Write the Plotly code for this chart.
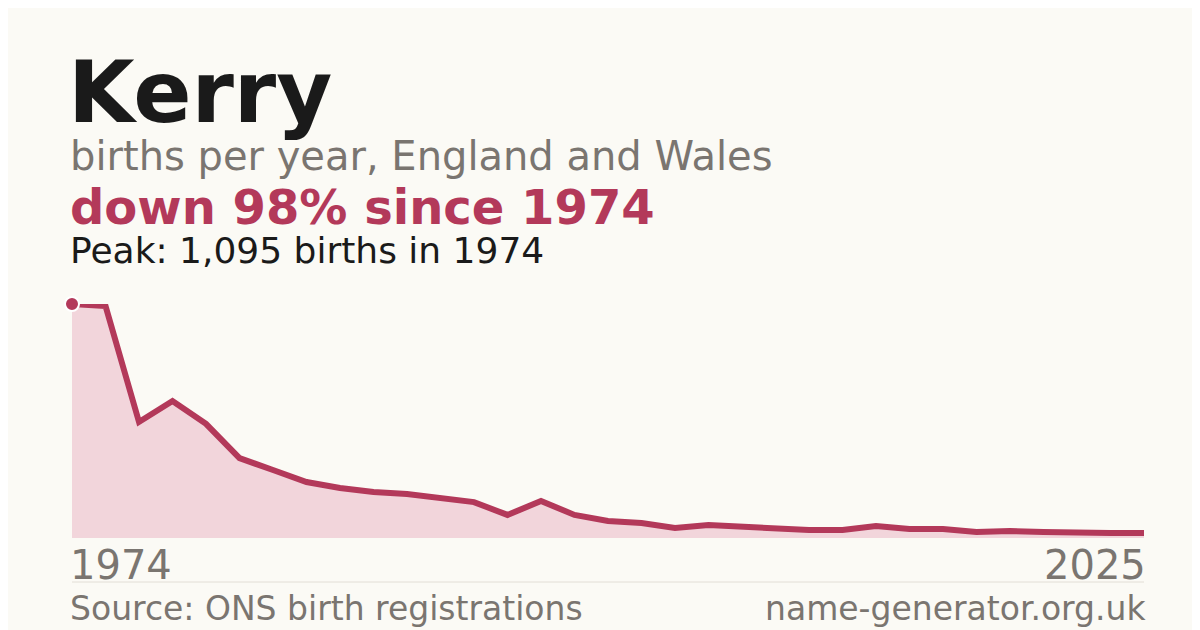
import plotly.graph_objects as go

# births per data point, first = 1974, last = 2025
births = [1095, 1086, 543, 641, 534, 374, 318, 262, 234, 215, 206, 187, 168, 108,
          173, 108, 80, 70, 47, 61, 51, 47, 37, 37, 56, 42, 42, 28, 33, 28, 23, 23, 23]
idx = list(range(len(births)))
first_year, last_year = "1974", "2025"

red = "#b3395a"
grey = "#7a7570"
bg = "#fbfaf5"
font = "DejaVu Sans"

fig = go.Figure()
fig.add_trace(go.Scatter(x=idx, y=births, mode="lines", fill="tozeroy",
                         fillcolor="#f2d5db", line=dict(color=red, width=6),
                         hoverinfo="skip"))
fig.add_trace(go.Scatter(x=[idx[0]], y=[births[0]], mode="markers",
                         marker=dict(color=red, size=14, line=dict(color="white", width=2)),
                         cliponaxis=False, hoverinfo="skip"))

def txt(x, y, s, size, color, bold=False, anchor="left"):
    fig.add_annotation(xref="paper", yref="paper", x=x, y=y, text=f"<b>{s}</b>" if bold else s,
                       showarrow=False, xanchor=anchor, yanchor="middle",
                       font=dict(family=font, size=size, color=color))

W, H = 1200, 630
def px(xp): return (xp - 64) / (1136 - 64)
def py(yp): return (530 - yp) / (530 - 296)

txt(px(58), py(84), "Kerry", 86, "#1a1a1a", bold=True)
txt(px(60), py(148), "births per year, England and Wales", 40, grey)
txt(px(60), py(199), "down 98% since 1974", 48, red, bold=True)
txt(px(60), py(243), "Peak: 1,095 births in 1974", 36, "#1a1a1a")
txt(px(60), py(557), first_year, 40, grey)
txt(px(1140), py(557), last_year, 40, grey, anchor="right")
txt(px(60), py(600), "Source: ONS birth registrations", 33, grey)
txt(px(1140), py(600), "name-generator.org.uk", 33, grey, anchor="right")
fig.add_shape(type="line", xref="paper", yref="paper", x0=0, x1=1, y0=py(574), y1=py(574),
              line=dict(color="#e2ded6", width=1))

fig.update_layout(width=W, height=H, paper_bgcolor=bg, plot_bgcolor=bg, showlegend=False,
                  margin=dict(l=64, r=64, t=296, b=100),
                  xaxis=dict(range=[0, len(births) - 1], visible=False),
                  yaxis=dict(range=[0, 1095], visible=False))
fig.write_html("out.html")
